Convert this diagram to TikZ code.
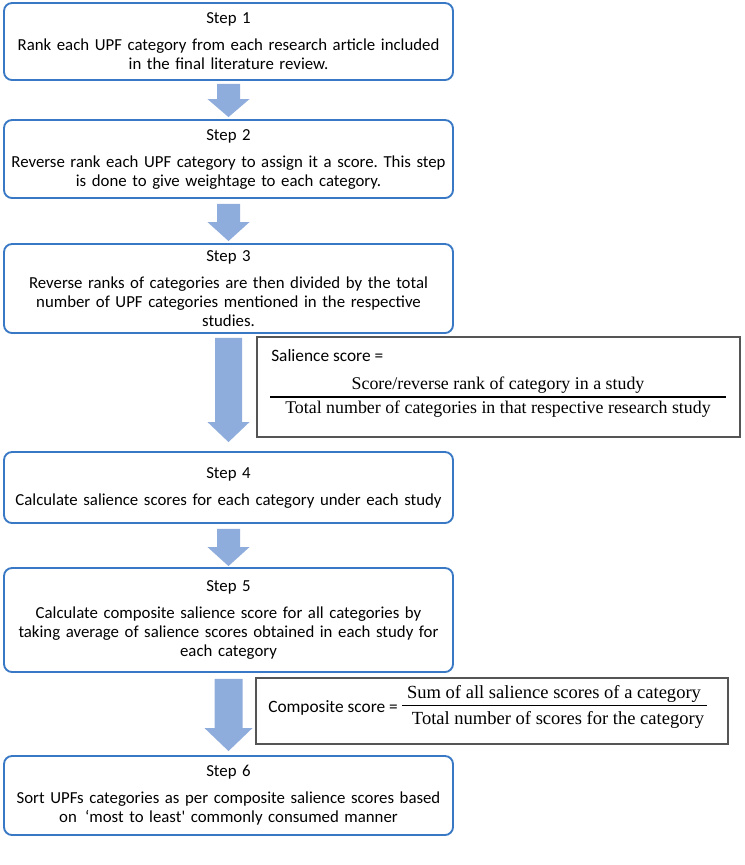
\documentclass[tikz,border=0pt]{standalone}
\usepackage{fontspec}
\setmainfont{Carlito}
\newfontfamily\formfont{Liberation Serif}
\usetikzlibrary{calc}
\frenchspacing
\definecolor{boxblue}{RGB}{56,120,196}
\definecolor{arrowblue}{RGB}{143,173,220}
\definecolor{formgray}{RGB}{85,85,85}
\tikzset{
  stepbox/.style={draw=boxblue, line width=1.4pt, rounded corners=6pt,
    minimum width=336.75pt, text width=334pt, align=center, inner sep=0pt,
    font=\fontsize{12.6}{14.25}\selectfont},
  formbox/.style={draw=formgray, line width=1.1pt, inner sep=0pt},
  formtext/.style={inner sep=0pt, font=\formfont\fontsize{13.4}{15}\selectfont},
  formtextb/.style={inner sep=0pt, font=\formfont\fontsize{13.9}{15}\selectfont},
  labtext/.style={inner sep=0pt, anchor=west, font=\fontsize{13}{15}\selectfont},
  arrowfill/.style={fill=arrowblue},
  fracrule/.style={line width=1.3pt, black},
}
% from, to, gap top, gap bottom, shaft half width, head half width, head length
\newcommand{\blockarr}[7]{%
  \fill[arrowfill] ($(#1.south)+(-#5,#3)$) -- ($(#1.south)+(#5,#3)$)
    -- ($(#2.north)+(#5,-#4-#7)$) -- ($(#2.north)+(#6,-#4-#7)$)
    -- ($(#2.north)+(0,-#4)$) -- ($(#2.north)+(-#6,-#4-#7)$)
    -- ($(#2.north)+(-#5,-#4-#7)$) -- cycle;}
\begin{document}
\begin{tikzpicture}[x=0.75pt,y=-0.75pt]
\useasboundingbox (0,0) rectangle (744,865);

\node[stepbox, minimum height=57.75pt] (s1) at (228.5,41.5)
  {Step 1\\[6pt]Rank each UPF category from each research article included\\in the final literature review.};
\node[stepbox, minimum height=58.5pt] (s2) at (228.5,159)
  {Step 2\\[6pt]Reverse rank each UPF category to assign it a score. This step\\is done to give weightage to each category.};
\node[stepbox, minimum height=66.75pt] (s3) at (228.5,288.5)
  {Step 3\\[6pt]Reverse ranks of categories are then divided by the total\\number of UPF categories mentioned in the respective\\studies.};
\node[stepbox, minimum height=53.25pt] (s4) at (228.5,487.5)
  {Step 4\\[6pt]Calculate salience scores for each category under each study};
\node[stepbox, minimum height=78pt] (s5) at (228.5,620)
  {Step 5\\[6pt]Calculate composite salience score for all categories by\\taking average of salience scores obtained in each study for\\each category};
\node[stepbox, minimum height=59.25pt] (s6) at (228.5,795.5)
  {Step 6\\[6pt]Sort UPFs categories as per composite salience scores based\\on \,‘most to least\textquotesingle{} commonly consumed manner};

% formula box 1
\node[formbox, minimum width=362.25pt, minimum height=75pt] (f1) at (498.5,387) {};
\node[labtext] (f1lab) at (271,356) {Salience score =};
\node[formtext] (f1num) at (498,385) {Score/reverse rank of category in a study};
\node[formtext] (f1den) at (498,409.5) {Total number of categories in that respective research study};
\coordinate (f1l) at (270,397);
\coordinate (f1r) at (726,397);
\draw[fracrule] (f1l) -- (f1r);

% formula box 2
\node[formbox, minimum width=354pt, minimum height=49.5pt] (f2) at (492,711) {};
\node[labtext] (f2lab) at (268,708) {Composite score =};
\node[formtextb] (f2num) at (554,694) {Sum of all salience scores of a category};
\node[formtextb] (f2den) at (558,720) {Total number of scores for the category};
\coordinate (f2l) at (402,705.5);
\coordinate (f2r) at (707,705.5);
\draw[fracrule] (f2l) -- (f2r);

% block arrows
\blockarr{s1}{s2}{3}{2}{11.5}{21}{18}
\blockarr{s2}{s3}{5}{2}{11.5}{21}{19}
\blockarr{s3}{s4}{4}{9}{13.5}{21}{20}
\blockarr{s4}{s5}{5}{1}{11.5}{21}{19}
\blockarr{s5}{s6}{6}{4}{14}{24}{23}
\end{tikzpicture}
\end{document}
